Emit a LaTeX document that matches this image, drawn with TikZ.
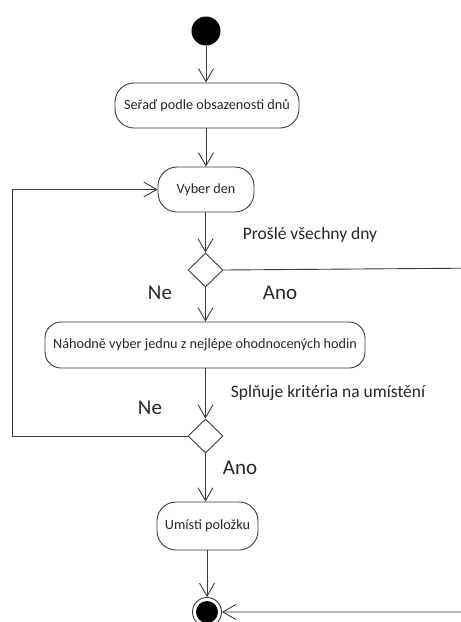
\documentclass[tikz,border=0pt]{standalone}
\usepackage{fontspec}
\setmainfont{Carlito}
\usetikzlibrary{arrows.meta,shapes.geometric}
\definecolor{ln}{HTML}{3A3A3A}
\definecolor{tx}{HTML}{262626}
\tikzset{
  arr/.style={draw=ln, line width=0.9pt, -{Straight Barb[length=13pt,width=15pt,line width=0.9pt]}},
  act/.style={draw=ln, line width=0.9pt, rounded corners=19pt, inner sep=0pt, text=tx,
              font=\fontsize{14.2}{16}\selectfont},
  dec/.style={draw=ln, line width=0.9pt, shape=diamond, inner sep=0pt, minimum width=35pt, minimum height=34pt},
  lbl/.style={text=tx, font=\fontsize{17.5}{19}\selectfont, inner sep=0pt},
  guard/.style={text=tx, font=\fontsize{21}{23}\selectfont, inner sep=0pt},
}
\begin{document}
\begin{tikzpicture}[x=1pt,y=-1pt]
\useasboundingbox (0,0) rectangle (461,622);
\clip (0,0) rectangle (461,622);
\node[circle, fill=black, minimum size=29pt, inner sep=0pt] (start) at (206,31) {};
\node[act, minimum width=184pt, minimum height=45pt] (a1) at (207,105.5) {Seřaď podle obsazenosti dnů};
\node[act, minimum width=96pt, minimum height=45pt] (a2) at (206,189.5) {Vyber den};
\node[dec] (d1) at (205.5,270) {};
\node[act, minimum width=320pt, minimum height=46pt, rounded corners=16pt] (a3) at (205,345) {Náhodně vyber jednu z nejlépe ohodnocených hodin};
\node[dec] (d2) at (205.5,436) {};
\node[act, minimum width=101pt, minimum height=48pt] (a4) at (207.5,526) {Umísti položku};
\node[circle, draw=ln, line width=0.9pt, minimum size=29pt, inner sep=0pt] (end) at (207,612) {};
\fill[black] (end.center) circle (11pt);

\node[lbl] (l1) at (310,235) {Prošlé všechny dny};
\node[guard] (l2) at (160,293) {Ne};
\node[guard] (l3) at (280,293) {Ano};
\node[lbl] (l4) at (328,393) {Splňuje kritéria na umístění};
\node[guard] (l5) at (150,408) {Ne};
\node[guard] (l6) at (240,468) {Ano};

\coordinate (rt) at (490,268);
\coordinate (lf) at (12,436);

\draw[arr] (start) -- (start |- a1.north);
\draw[arr] (start |- a1.south) -- (a2.north -| start);
\draw[arr] (a2.south -| d1) -- (d1.north);
\draw[arr] (d1.south) -- (a3.north -| d1);
\draw[arr] (a3.south -| d2) -- (d2.north);
\draw[arr] (d2.south) -- (a4.north -| d2);
\draw[arr] (a4.south -| end) -- (end.north);
\draw[arr] (d2.west) -- (d2.west -| lf) |- (a2.west);
\draw[arr] (d1.east) -- (rt) |- (end.east);
\end{tikzpicture}
\end{document}
